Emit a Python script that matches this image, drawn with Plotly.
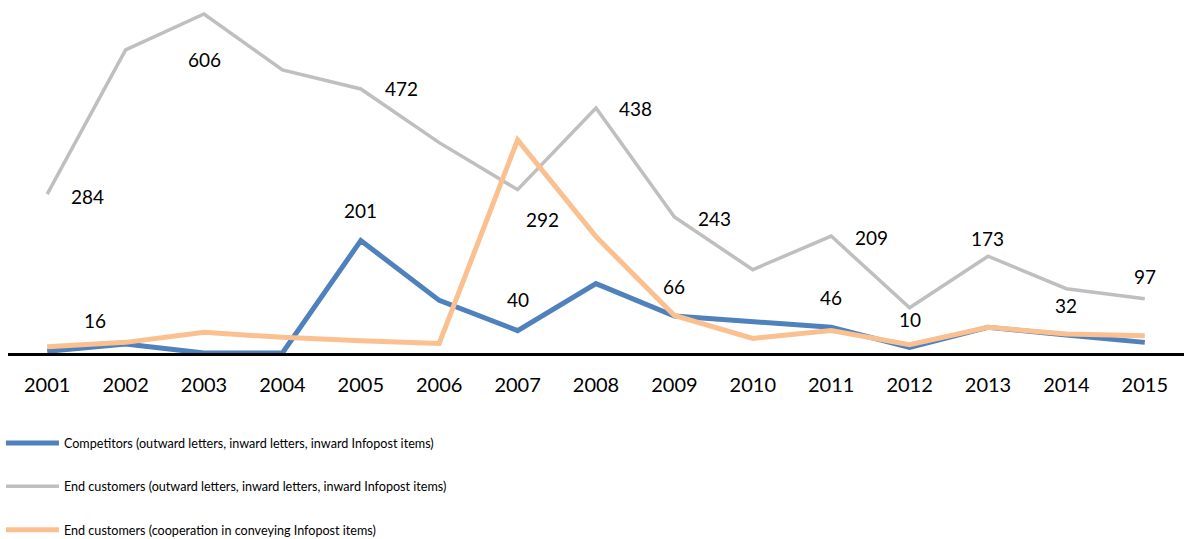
import plotly.graph_objects as go

years = [str(y) for y in range(2001, 2016)]

competitors = [3, 16, 0, 0, 201, 94, 40, 124, 66, 57, 46, 10, 46, 32, 19]
end_customers = [284, 542, 606, 506, 472, 376, 292, 438, 243, 149, 209, 81, 173, 115, 97]
cooperation = [11, 19, 37, 28, 22, 17, 381, 208, 67, 26, 40, 15, 46, 34, 31]

names = [
    "Competitors (outward letters, inward letters, inward Infopost items)",
    "End customers (outward letters, inward letters, inward Infopost items)",
    "End customers (cooperation in conveying Infopost items)",
]
colors = ["#4f81bd", "#bfbfbf", "#fac090"]
widths = [5, 3.5, 5]

# which points carry a value label, with the label offset in pixels
competitor_labels = {"2002": (-31, 24), "2005": (0, 30), "2007": (0, 31), "2009": (0, 30),
                     "2011": (0, 30), "2012": (0, 28), "2014": (0, 30)}
customer_labels = {"2001": (40, -2), "2003": (0, -46), "2005": (41, 0), "2007": (25, -30),
                   "2008": (39, -1), "2009": (40, -1), "2011": (40, -1), "2013": (-1, 18),
                   "2015": (0, 22)}

FONT = "Lato, 'Open Sans', sans-serif"

fig = go.Figure()
for name, vals, col, w, grp in zip(names, [competitors, end_customers, cooperation],
                                   colors, widths, ["a", "b", "c"]):
    fig.add_trace(go.Scatter(x=years, y=vals, mode="lines", name=name,
                             legendgroup=grp,
                             line=dict(color=col, width=w)))

# category axis: annotations are placed by category index
for series, labels in [(competitors, competitor_labels), (end_customers, customer_labels)]:
    for yr, (dx, dy) in labels.items():
        i = years.index(yr)
        v = series[i]
        fig.add_annotation(x=i, y=v, xref="x", yref="y", text=str(v), showarrow=False,
                           xshift=dx, yshift=dy,
                           font=dict(family=FONT, size=19, color="#000000"))

fig.update_layout(
    width=1187, height=539,
    margin=dict(l=8, r=3, t=0, b=186, autoexpand=False),
    paper_bgcolor="white", plot_bgcolor="white",
    font=dict(family=FONT, color="#000000"),
    showlegend=True,
    legend=dict(orientation="v", x=-0.006, xanchor="left", y=-0.213, yanchor="top",
                font=dict(family=FONT, size=12.6, color="#000000"),
                itemwidth=53,
                tracegroupgap=24, bgcolor="rgba(0,0,0,0)"),
)
fig.update_xaxes(type="category", range=[-0.5, 14.5], showgrid=False, zeroline=False,
                 showline=True, linecolor="#000000", linewidth=3,
                 ticks="outside", ticklen=12, tickcolor="rgba(0,0,0,0)",
                 tickfont=dict(family=FONT, size=20, color="#000000"))
fig.update_yaxes(range=[0, 631], showgrid=False, zeroline=False, showticklabels=False,
                 showline=False)

fig.write_html("out.html")
